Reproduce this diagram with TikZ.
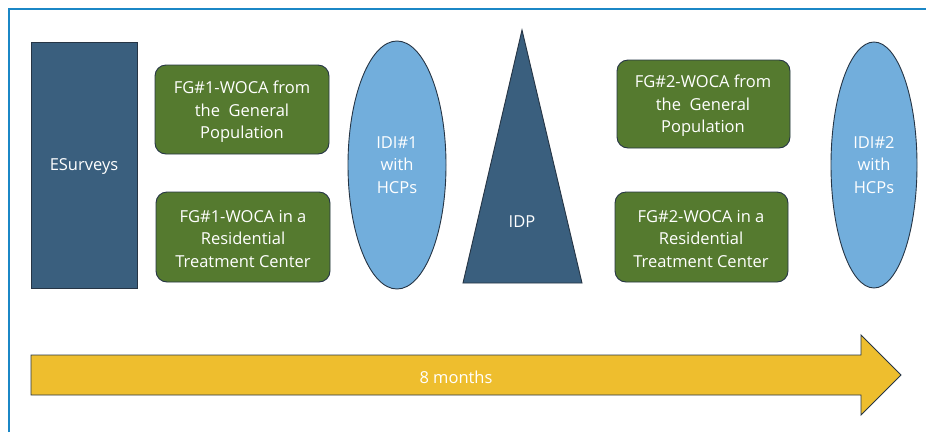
\documentclass[tikz,border=0pt]{standalone}
\usepackage{fontspec}
\setmainfont{Open Sans}
\usetikzlibrary{shapes.geometric}
\definecolor{frameblue}{HTML}{1B87C6}
\definecolor{navy}{HTML}{3A5F7E}
\definecolor{leaf}{HTML}{557A2F}
\definecolor{sky}{HTML}{72AEDC}
\definecolor{gold}{HTML}{EEBE2E}
\definecolor{edge}{HTML}{263545}
\tikzset{
  x=1pt, y=-1pt,
  every node/.style={font=\fontsize{16.5}{22.5}\selectfont, text=white, align=center, yshift=-2pt},
  fgbox/.style={draw=edge, line width=0.9pt, fill=leaf, rounded corners=11pt},
  idi/.style={draw=edge, line width=0.9pt, fill=sky},
  solid block/.style={draw=edge, line width=0.9pt, fill=navy},
}
\begin{document}
\begin{tikzpicture}
\useasboundingbox (0,0) rectangle (926,432);
% outer frame
\draw[frameblue, line width=2pt] (9,432) -- (9,9) -- (926,9);
% e-surveys block
\draw[solid block] (31,42) rectangle (137,288);
\node (es) at (84,165) {ESurveys};
% first focus groups
\draw[fgbox] (155,65) rectangle (329,154);
\node (fg1a) at (242,110) {FG\#1-WOCA from\\the\ \ General\\Population};
\draw[fgbox] (156,192) rectangle (330,282);
\node (fg1b) at (243,237) {FG\#1-WOCA in a\\Residential\\Treatment Center};
% first interviews
\draw[idi] (397,165) ellipse [x radius=49, y radius=124];
\node (idi1) at (397,163) {IDI\#1\\with\\HCPs};
% IDP triangle
\draw[solid block] (522,30) -- (582,283) -- (463,283) -- cycle;
\node (idp) at (522,220) {IDP};
% second focus groups
\draw[fgbox] (617,60) rectangle (790,148);
\node (fg2a) at (703,104) {FG\#2-WOCA from\\the\ \ General\\Population};
\draw[fgbox] (615,192) rectangle (788,282);
\node (fg2b) at (701,237) {FG\#2-WOCA in a\\Residential\\Treatment Center};
% second interviews
\draw[idi] (874,165) ellipse [x radius=43, y radius=123];
\node (idi2) at (874,163) {IDI\#2\\with\\HCPs};
% timeline arrow
\draw[draw=edge, line width=0.9pt, fill=gold]
  (31,355) -- (861,355) -- (861,335) -- (901,375) -- (861,415) -- (861,395) -- (31,395) -- cycle;
\node (time) at (456,375) {8 months};
\end{tikzpicture}
\end{document}
